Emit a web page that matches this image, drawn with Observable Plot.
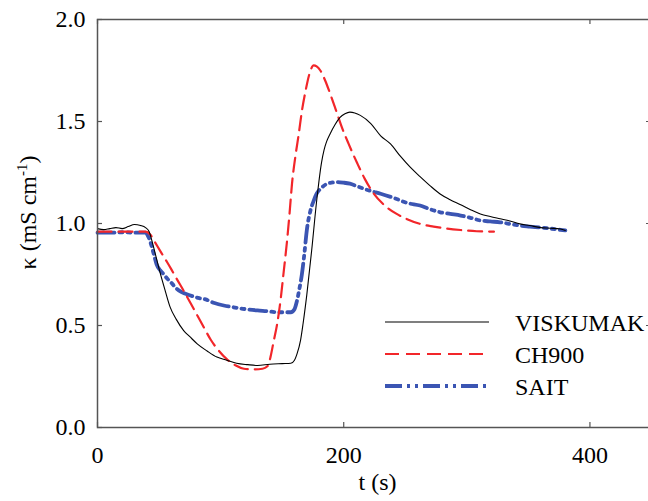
<!DOCTYPE html>
<html>
<head>
<meta charset="utf-8">
<script src="https://cdn.jsdelivr.net/npm/d3@7"></script>
<script src="https://cdn.jsdelivr.net/npm/@observablehq/plot@0.6"></script>
<style>
  html, body { margin: 0; padding: 0; background: white; overflow: hidden; width: 648px; height: 501px; }
  #chart { position: relative; width: 648px; height: 501px; overflow: hidden; }
  #chart svg text { font-family: "Liberation Serif", "Times New Roman", serif !important; }
</style>
</head>
<body>
<div id="chart"></div>
<script>
// ---- data ----
const seriesNames = ["VISKUMAK", "CH900", "SAIT"];
const seriesColors = ["#000000", "#f2262a", "#3b55b3"];

const viskTime = [0,5,10,15,20,25,30,35,39,42,44,47,51,55,59,64,70,75,81,89,97,105,113,122,130,140,150,157,160,162,165,167,170,174,178,182,184,186,189,193,197,201,205,209,213.5,222,230,238,246,254,262,270,278,286,295,303,311,319,327,335,343,351,360,368,376,380];
const viskKappa = [0.975,0.97,0.975,0.98,0.975,0.985,0.995,0.99,0.98,0.96,0.92,0.85,0.755,0.67,0.59,0.53,0.475,0.445,0.41,0.375,0.345,0.33,0.315,0.308,0.304,0.31,0.313,0.315,0.33,0.36,0.43,0.51,0.65,0.87,1.11,1.30,1.36,1.40,1.44,1.485,1.52,1.538,1.546,1.542,1.53,1.49,1.43,1.39,1.33,1.276,1.23,1.186,1.146,1.118,1.092,1.068,1.047,1.034,1.023,1.012,0.998,0.99,0.98,0.977,0.973,0.966];

const chTime = [0,10,20,30,39,43,47,52,56.6,60,64.7,70,76,81,86,92,98,105,112,119,126,134,138,140.5,143,146,149,151,154,156,158,161,163.5,166,169,172,175.6,178,181,185,189,194,198.6,204,211,217,224,233,243,252,262,273,284,295,308,322];
const chKappa = [0.96,0.96,0.96,0.96,0.96,0.945,0.905,0.855,0.81,0.775,0.725,0.67,0.605,0.55,0.495,0.43,0.38,0.335,0.305,0.288,0.285,0.288,0.30,0.345,0.42,0.51,0.64,0.75,0.917,1.05,1.195,1.34,1.44,1.55,1.65,1.73,1.775,1.77,1.75,1.70,1.636,1.55,1.47,1.39,1.295,1.22,1.15,1.09,1.047,1.02,0.998,0.985,0.975,0.968,0.962,0.96];

const saitTime = [0,10,20,30,39,41.7,45.7,48,51,54,56.6,60,63,68,75.5,82,87.7,95,102.5,110,118,130,138,146,152,157,160,162,164,166,168,170,173,175.5,178,182,186.5,190,194.6,200,205,212,221.6,230,243,252,262,270,278.5,286.6,295,303,311,319,327,335,343,351,360,368,376,380];
const saitKappa = [0.955,0.955,0.957,0.955,0.955,0.93,0.85,0.80,0.77,0.75,0.73,0.71,0.688,0.665,0.647,0.635,0.628,0.61,0.598,0.59,0.582,0.574,0.57,0.565,0.565,0.565,0.58,0.62,0.68,0.75,0.85,0.966,1.064,1.11,1.146,1.175,1.195,1.2,1.203,1.2,1.195,1.18,1.16,1.146,1.12,1.10,1.088,1.07,1.055,1.047,1.039,1.028,1.015,1.01,1.006,0.998,0.99,0.985,0.98,0.975,0.969,0.966];

const xTicks = [0, 200, 400];
const yTicks = [0, 0.5, 1.0, 1.5, 2.0];
const xLabel = "t (s)";
const yLabel = "κ (mS cm-1)";

// ---- build ----
const toRows = (ts, ks) => ts.map((t, i) => ({t, k: ks[i]}));
const visk = toRows(viskTime, viskKappa);
const ch = toRows(chTime, chKappa);
const sait = toRows(saitTime, saitKappa);

const W = 651, H = 501, mL = 97, mR = 0, mT = 19, mB = 74;
const innerW = W - mL - mR, innerH = H - mT - mB;
const axisColor = "#555";
const font = "'Liberation Serif', 'Times New Roman', serif";

const plot = Plot.plot({
  width: W, height: H,
  marginLeft: mL, marginRight: mR, marginTop: mT, marginBottom: mB,
  style: {fontFamily: font, fontSize: "24px", background: "white", color: "black", maxWidth: "none", overflow: "hidden"},
  x: {domain: [0, 450]},
  y: {domain: [0, 2]},
  marks: [
    Plot.line(sait, {x: "t", y: "k", stroke: seriesColors[2], strokeWidth: 3.8, strokeDasharray: "17,5,3,5,3,5", curve: "monotone-x"}),
    Plot.line(ch, {x: "t", y: "k", stroke: seriesColors[1], strokeWidth: 2.2, strokeDasharray: "14,7", curve: "monotone-x"}),
    Plot.line(visk, {x: "t", y: "k", stroke: seriesColors[0], strokeWidth: 1.1, curve: "monotone-x"}),
    Plot.frame({stroke: axisColor, strokeWidth: 1.5}),
    Plot.tickX(xTicks, {x: d => d, insetTop: innerH - 5, stroke: axisColor, strokeWidth: 1.2}),
    Plot.tickX(xTicks, {x: d => d, insetBottom: innerH - 5, stroke: axisColor, strokeWidth: 1.2}),
    Plot.tickY(yTicks, {y: d => d, insetRight: innerW - 5, stroke: axisColor, strokeWidth: 1.2}),
    Plot.tickY(yTicks, {y: d => d, insetLeft: innerW - 5, stroke: axisColor, strokeWidth: 1.2}),
    Plot.axisX({anchor: "bottom", ticks: xTicks, tickSize: 0, tickPadding: 18, tickFormat: d => String(d), label: null, fontSize: 24}),
    Plot.axisY({anchor: "left", ticks: yTicks, tickSize: 0, tickPadding: 12, tickFormat: d3.format(".1f"), label: null, fontSize: 24}),
    Plot.text([xLabel], {frameAnchor: "bottom", text: d => d, dx: 3, dy: 55, lineAnchor: "middle", textAnchor: "middle", fontSize: 24}),
    Plot.text([yLabel], {frameAnchor: "left", text: d => d, rotate: -90, dx: -69, dy: -11, lineAnchor: "middle", textAnchor: "middle", fontSize: 24})
  ]
});

document.getElementById("chart").appendChild(plot);

// superscript on y label
const svg = d3.select(plot);
svg.selectAll("text").each(function() {
  const el = d3.select(this);
  if (el.text() === yLabel) {
    el.text(null);
    el.append("tspan").text("κ (mS cm");
    el.append("tspan").attr("font-size", "15px").attr("dy", "-9").text("-1");
    el.append("tspan").attr("dy", "9").text(")");
  }
});

// legend (drawn inside the plot svg)
const legendStyles = [
  {w: 1.1, dash: null},
  {w: 2.2, dash: "14,7"},
  {w: 3.8, dash: "17,5,3,5,3,5"}
];
const lg = svg.append("g").attr("class", "legend").attr("text-anchor", "start");
seriesNames.forEach((name, i) => {
  const y = 322 + i * 32;
  const ln = lg.append("line").attr("x1", 385).attr("x2", 489).attr("y1", y).attr("y2", y)
    .attr("stroke", seriesColors[i]).attr("stroke-width", legendStyles[i].w);
  if (legendStyles[i].dash) ln.attr("stroke-dasharray", legendStyles[i].dash);
  lg.append("text").attr("x", 515).attr("y", y + 9).attr("font-size", 24)
    .attr("text-anchor", "start")
    .attr("font-family", font).attr("fill", "black").text(name);
});
</script>
</body>
</html>
